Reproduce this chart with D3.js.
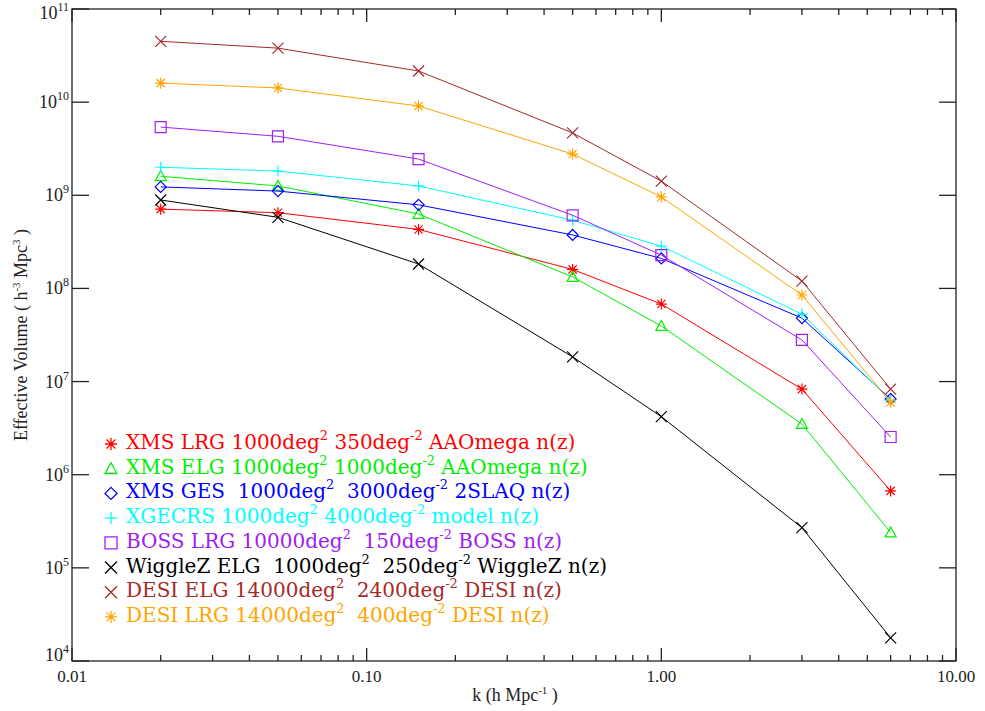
<!DOCTYPE html>
<html><head><meta charset="utf-8">
<script src="https://cdn.jsdelivr.net/npm/d3@7"></script>
<style>body{margin:0;background:#fff}svg{display:block}text{font-family:"Liberation Serif","DejaVu Serif",serif;white-space:pre}text.lg{font-family:"DejaVu Serif",serif}</style>
</head><body><svg id="c" width="985" height="711"></svg>
<script>
const kValues = [0.02, 0.05, 0.15, 0.5, 1.0, 3.0, 6.0];
const xmsLRG   = [7.1e8, 6.5e8, 4.3e8, 1.6e8, 6.8e7, 8.3e6, 6.7e5];
const xmsELG   = [1.6e9, 1.26e9, 6.3e8, 1.33e8, 3.95e7, 3.5e6, 2.4e5];
const xmsGES   = [1.23e9, 1.11e9, 7.9e8, 3.75e8, 2.1e8, 4.8e7, 6.5e6];
const xgecrs   = [2.0e9, 1.82e9, 1.26e9, 5.4e8, 2.85e8, 5.3e7, 6.3e6];
const bossLRG  = [5.4e9, 4.3e9, 2.45e9, 6.1e8, 2.28e8, 2.8e7, 2.54e6];
const wiggleZ  = [8.9e8, 5.8e8, 1.83e8, 1.84e7, 4.2e6, 2.7e5, 1.77e4];
const desiELG  = [4.5e10, 3.8e10, 2.16e10, 4.67e9, 1.42e9, 1.2e8, 8.3e6];
const desiLRG  = [1.6e10, 1.42e10, 9.1e9, 2.77e9, 9.6e8, 8.5e7, 6.0e6];

const seriesNames = [
  "XMS LRG 1000deg^{2} 350deg^{-2} AAOmega n(z)",
  "XMS ELG 1000deg^{2} 1000deg^{-2} AAOmega n(z)",
  "XMS GES  1000deg^{2}  3000deg^{-2} 2SLAQ n(z)",
  "XGECRS 1000deg^{2} 4000deg^{-2} model n(z)",
  "BOSS LRG 10000deg^{2}  150deg^{-2} BOSS n(z)",
  "WiggleZ ELG  1000deg^{2}  250deg^{-2} WiggleZ n(z)",
  "DESI ELG 14000deg^{2}  2400deg^{-2} DESI n(z)",
  "DESI LRG 14000deg^{2}  400deg^{-2} DESI n(z)"
];
const seriesValues = [xmsLRG, xmsELG, xmsGES, xgecrs, bossLRG, wiggleZ, desiELG, desiLRG];
const seriesColors = ["#ff0000", "#00ee00", "#0000ff", "#00ffff", "#a020f0", "#000000", "#a52a2a", "#ffa500"];
const seriesSymbols = ["asterisk", "triangle", "diamond", "plus", "square", "cross", "cross", "asterisk"];

const xTickLabels = ["0.01", "0.10", "1.00", "10.00"];
const yTickExps = [4, 5, 6, 7, 8, 9, 10, 11];

const svg = d3.select("#c");
const L = 72, R = 956, T = 9, B = 661;
const x = d3.scaleLog().domain([0.01, 10]).range([L, R]);
const y = d3.scaleLog().domain([1e4, 1e11]).range([B, T]);

function symbolPath(type, s) {
  const h = s / 2;
  switch (type) {
    case "asterisk": return `M0,${-h}V${h}M${-h},0H${h}M${-h*0.75},${-h*0.75}L${h*0.75},${h*0.75}M${-h*0.75},${h*0.75}L${h*0.75},${-h*0.75}`;
    case "plus": return `M0,${-h}V${h}M${-h},0H${h}`;
    case "cross": return `M${-h},${-h}L${h},${h}M${-h},${h}L${h},${-h}`;
    case "square": return `M${-h},${-h}H${h}V${h}H${-h}Z`;
    case "diamond": return `M0,${-h}L${h},0L0,${h}L${-h},0Z`;
    case "triangle": return `M0,${-h}L${h},${h*0.8}L${-h},${h*0.8}Z`;
  }
}
const line = d3.line().x((d, i) => x(kValues[i])).y(d => y(d));
const g = svg.append("g");
seriesValues.forEach((vals, si) => {
  g.append("path").attr("d", line(vals)).attr("fill", "none")
    .attr("stroke", seriesColors[si]).attr("stroke-width", 1);
  g.selectAll(null).data(vals).enter().append("path")
    .attr("transform", (d, i) => `translate(${x(kValues[i])},${y(d)})`)
    .attr("d", symbolPath(seriesSymbols[si], 11))
    .attr("fill", "none").attr("stroke", seriesColors[si]).attr("stroke-width", 1.2);
});

const ax = svg.append("g").attr("stroke", "#222").attr("stroke-width", 1.3).attr("fill", "none");
ax.append("rect").attr("x", L).attr("y", T).attr("width", R - L).attr("height", B - T);
const xTicks = [];
for (let e = -2; e <= 0; e++) for (let m = 1; m <= 9; m++) xTicks.push({v: m * Math.pow(10, e), major: m === 1});
xTicks.push({v: 10, major: true});
xTicks.forEach(t => {
  const len = t.major ? 13 : 6;
  const px = x(t.v);
  ax.append("line").attr("x1", px).attr("x2", px).attr("y1", B).attr("y2", B - len);
  ax.append("line").attr("x1", px).attr("x2", px).attr("y1", T).attr("y2", T + len);
});
yTickExps.forEach(e => {
  const py = y(Math.pow(10, e));
  ax.append("line").attr("x1", L).attr("x2", L + 17).attr("y1", py).attr("y2", py);
  ax.append("line").attr("x1", R).attr("x2", R - 17).attr("y1", py).attr("y2", py);
});

const xl = svg.append("g").attr("fill", "#222").attr("font-size", 17).attr("text-anchor", "middle");
[0.01, 0.1, 1, 10].forEach((v, i) => {
  xl.append("text").attr("x", x(v)).attr("y", 682).text(xTickLabels[i]);
});
const yl = svg.append("g").attr("fill", "#222").attr("text-anchor", "end");
yTickExps.forEach(e => {
  const py = y(Math.pow(10, e));
  const base = Math.max(T + 10, Math.min(B, py + 6));
  const t = yl.append("text").attr("x", 69).attr("y", base).attr("font-size", 18);
  t.append("tspan").text("10");
  t.append("tspan").attr("dy", -8).attr("font-size", 12).text(String(e));
});

function richText(sel, str, supSize, rise) {
  const parts = str.split(/(\^\{[^}]*\})/);
  let raised = false;
  parts.forEach(p => {
    if (!p) return;
    if (p.startsWith("^{")) {
      sel.append("tspan").attr("dy", -rise).attr("font-size", supSize).text(p.slice(2, -1));
      raised = true;
    } else {
      const ts = sel.append("tspan").text(p);
      if (raised) { ts.attr("dy", rise); raised = false; }
    }
  });
}

const xt = svg.append("text").attr("x", 515).attr("y", 701).attr("text-anchor", "middle")
  .attr("font-size", 18).attr("fill", "#222");
xt.append("tspan").text("k (h Mpc");
xt.append("tspan").attr("dy", -7).attr("font-size", 11).text("-1");
xt.append("tspan").attr("dy", 7).text(" )");
const yt = svg.append("text").attr("transform", "translate(27,335) rotate(-90)").attr("text-anchor", "middle")
  .attr("font-size", 18).attr("fill", "#222");
yt.append("tspan").text("Effective Volume ( h");
yt.append("tspan").attr("dy", -7).attr("font-size", 11).text("-3");
yt.append("tspan").attr("dy", 7).text(" Mpc");
yt.append("tspan").attr("dy", -7).attr("font-size", 11).text("3");
yt.append("tspan").attr("dy", 7).text(" )");

const lg = svg.append("g");
seriesNames.forEach((name, i) => {
  const by = 449 + i * 24.7;
  lg.append("path").attr("transform", `translate(111,${by - 5})`)
    .attr("d", symbolPath(seriesSymbols[i], 12)).attr("fill", "none")
    .attr("stroke", seriesColors[i]).attr("stroke-width", 1.3);
  const t = lg.append("text").attr("class", "lg").attr("x", 126).attr("y", by).attr("font-size", 20)
    .attr("fill", seriesColors[i]);
  richText(t, name, 13, 9);
});
</script></body></html>
